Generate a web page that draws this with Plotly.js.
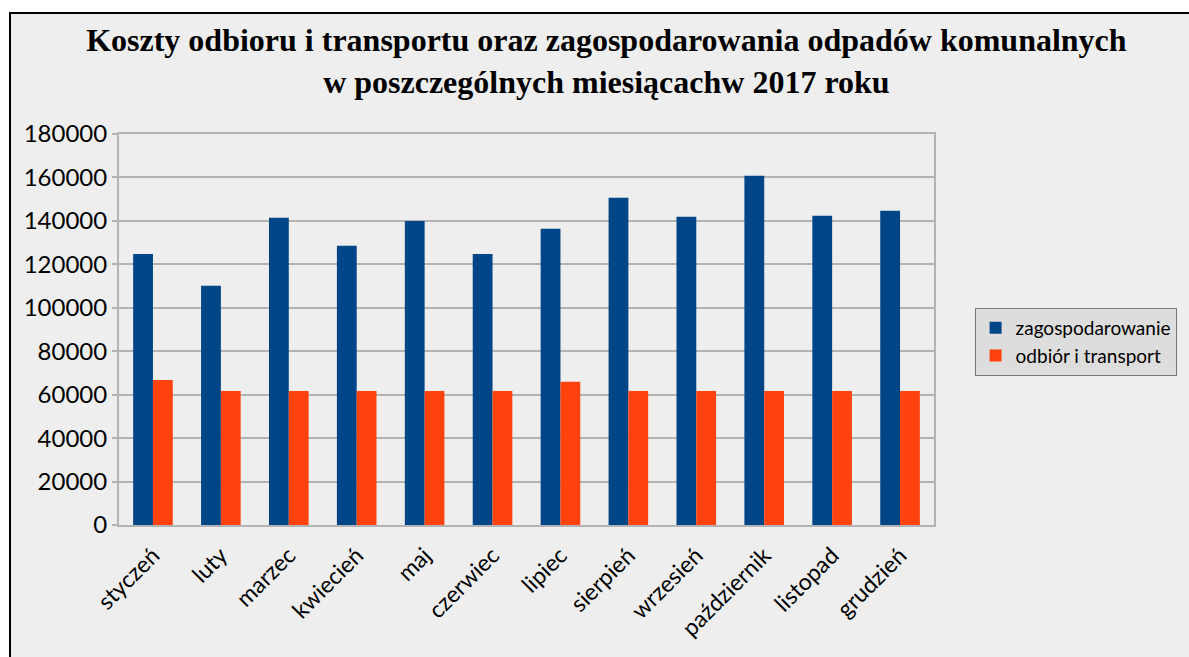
<!DOCTYPE html>
<html>
<head>
<meta charset="utf-8">
<script src="https://cdn.plot.ly/plotly-3.0.1.min.js"></script>
<style>
  html, body { margin: 0; padding: 0; background: #ffffff; }
  #wrap { position: relative; width: 1189px; height: 657px; overflow: hidden; }
  #chart { position: absolute; left: 0; top: 0; width: 1189px; height: 657px; }
  .mask { position: absolute; background: #ffffff; pointer-events: none; }
  #frame { position: absolute; left: 9px; top: 12px; width: 1300px; height: 800px;
           border-left: 2px solid #000; border-top: 2px solid #000; pointer-events: none; }
</style>
</head>
<body>
<div id="wrap">
  <div id="chart"></div>
  <div class="mask" style="left:0;top:0;width:1189px;height:12px;"></div>
  <div class="mask" style="left:0;top:0;width:9px;height:657px;"></div>
  <div id="frame"></div>
</div>
<script>
const months = ["styczeń", "luty", "marzec", "kwiecień", "maj", "czerwiec",
                "lipiec", "sierpień", "wrzesień", "październik", "listopad", "grudzień"];
const zagospodarowanie = [124800, 110100, 141400, 128500, 140000, 124800,
                          136400, 150600, 141900, 160800, 142400, 144700];
const odbiorTransport = [66800, 61700, 61700, 61700, 61700, 61700,
                         65900, 61700, 61700, 61700, 61700, 61700];
const seriesNames = ["zagospodarowanie", "odbiór i transport"];
const yTicks = [0, 20000, 40000, 60000, 80000, 100000, 120000, 140000, 160000, 180000];

const traces = [
  { type: "bar", name: seriesNames[0], x: months, y: zagospodarowanie,
    marker: { color: "#004586" }, hoverinfo: "skip" },
  { type: "bar", name: seriesNames[1], x: months, y: odbiorTransport,
    marker: { color: "#ff420e" }, hoverinfo: "skip" }
];

const layout = {
  width: 1189, height: 657,
  paper_bgcolor: "#eeeeee", plot_bgcolor: "#eeeeee",
  margin: { l: 119, r: 247, t: 134, b: 132 },
  barmode: "group", bargap: 0.417, bargroupgap: 0,
  title: {
    text: "<b>Koszty odbioru i transportu oraz zagospodarowania odpadów komunalnych<br>w poszczególnych miesiącachw 2017 roku</b>",
    font: { family: "Liberation Serif", size: 32, color: "#000" },
    x: 0.51, xref: "container", xanchor: "center",
    y: 1 - 51 / 657, yref: "container", yanchor: "top"
  },
  font: { family: "Lato", color: "#000" },
  xaxis: {
    type: "category", tickangle: -45, tickfont: { family: "Lato", size: 23, color: "#000" },
    ticklabelstandoff: 6,
    showline: true, linecolor: "#b3b3b3", linewidth: 2, mirror: true,
    ticks: "", showgrid: false
  },
  yaxis: {
    range: [0, 180000], tickvals: yTicks, tickformat: "d",
    tickfont: { family: "Lato", size: 24, color: "#000" },
    showgrid: true, gridcolor: "#b3b3b3", gridwidth: 2,
    showline: true, linecolor: "#b3b3b3", linewidth: 2, mirror: true,
    ticks: "outside", ticklen: 5, tickcolor: "#b3b3b3", tickwidth: 2,
    zeroline: false
  },
  showlegend: true,
  legend: {
    x: (983 - 119) / 823, xanchor: "left",
    y: (525 - 308) / 391, yanchor: "top",
    bgcolor: "#dddddd", bordercolor: "#777777", borderwidth: 1,
    font: { family: "Lato", size: 19, color: "#000" },
    tracegroupgap: 0
  }
};

Plotly.newPlot("chart", traces, layout, { displayModeBar: false, staticPlot: true });
</script>
</body>
</html>
